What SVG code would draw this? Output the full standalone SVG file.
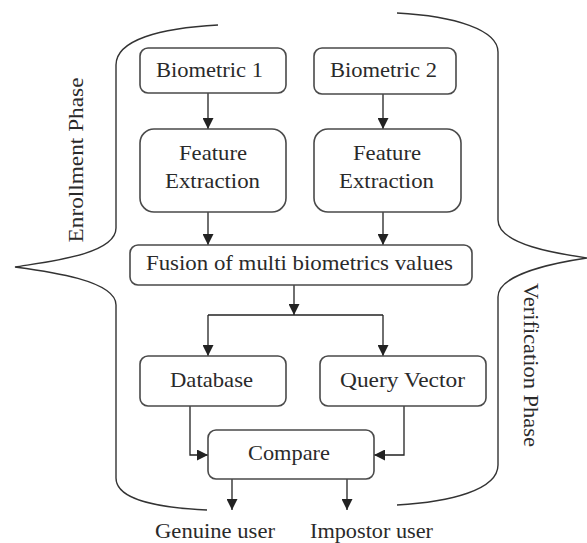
<svg xmlns="http://www.w3.org/2000/svg" width="587" height="543" viewBox="0 0 587 543">
<style>
.box{fill:#fff;stroke:#4a4a4a;stroke-width:1.6}
.t{font-family:"Liberation Serif","DejaVu Serif",serif;font-size:22px;fill:#2a2a2a;text-anchor:middle}
.c{fill:none;stroke:#222;stroke-width:1.3}
.brace{fill:none;stroke:#333;stroke-width:1.4}
</style>
<defs>
<marker id="ah" markerUnits="userSpaceOnUse" markerWidth="11" markerHeight="11" viewBox="0 0 10 10" refX="10" refY="5" orient="auto">
<path d="M0,0 L10,5 L0,10 z" fill="#222"/>
</marker>
</defs>
<g id="braces">
<path class="brace" d="M218,25 C160,28 116,40 116,65 L116,228 C116,255 45,262 15,267 C45,271 116,280 116,305 L116,478 C116,500 160,508 207,510"/>
<path class="brace" d="M397,13 C455,16 498,30 498,52 L498,220 C498,245 560,254 587,258 C560,262 498,273 498,297 L498,465 C498,490 450,502 397,505"/>
</g>
<g id="connectors">
<path class="c" d="M208,93 L208,129" marker-end="url(#ah)"/>
<path class="c" d="M383,94 L383,129" marker-end="url(#ah)"/>
<path class="c" d="M208,212 L208,245" marker-end="url(#ah)"/>
<path class="c" d="M383,212 L383,245" marker-end="url(#ah)"/>
<path class="c" d="M294,285 L294,315" marker-end="url(#ah)"/>
<path class="c" d="M208,315 L383,315"/>
<path class="c" d="M208,315 L208,356" marker-end="url(#ah)"/>
<path class="c" d="M383,315 L383,356" marker-end="url(#ah)"/>
<path class="c" d="M190,406 L190,455 L208,455" marker-end="url(#ah)"/>
<path class="c" d="M404,406 L404,455 L374,455" marker-end="url(#ah)"/>
<path class="c" d="M232,479 L232,510" marker-end="url(#ah)"/>
<path class="c" d="M347,479 L347,510" marker-end="url(#ah)"/>
</g>
<g id="bio1"><rect class="box" x="140" y="48" width="146" height="45" rx="8"/><text class="t" x="209.5" y="77" textLength="107" lengthAdjust="spacingAndGlyphs">Biometric 1</text></g>
<g id="bio2"><rect class="box" x="314" y="48" width="142" height="46" rx="8"/><text class="t" x="383.5" y="77" textLength="107" lengthAdjust="spacingAndGlyphs">Biometric 2</text></g>
<g id="fe1"><rect class="box" x="140" y="129" width="146" height="83" rx="14"/><text class="t" x="213" y="160" textLength="68" lengthAdjust="spacingAndGlyphs">Feature</text><text class="t" x="212.5" y="188" textLength="95" lengthAdjust="spacingAndGlyphs">Extraction</text></g>
<g id="fe2"><rect class="box" x="314" y="129" width="147" height="83" rx="14"/><text class="t" x="387" y="160" textLength="68" lengthAdjust="spacingAndGlyphs">Feature</text><text class="t" x="386.5" y="188" textLength="95" lengthAdjust="spacingAndGlyphs">Extraction</text></g>
<g id="fusion"><rect class="box" x="130" y="245" width="342" height="40" rx="8"/><text class="t" x="299.5" y="270" textLength="307" lengthAdjust="spacingAndGlyphs">Fusion of multi biometrics values</text></g>
<g id="database"><rect class="box" x="140" y="356" width="146" height="50" rx="8"/><text class="t" x="211.5" y="387" textLength="83" lengthAdjust="spacingAndGlyphs">Database</text></g>
<g id="query"><rect class="box" x="320" y="356" width="166" height="50" rx="8"/><text class="t" x="402.5" y="387" textLength="125" lengthAdjust="spacingAndGlyphs">Query Vector</text></g>
<g id="compare"><rect class="box" x="208" y="430" width="166" height="49" rx="8"/><text class="t" x="289" y="460" textLength="82" lengthAdjust="spacingAndGlyphs">Compare</text></g>
<g id="genuine"><text class="t" x="215" y="538" textLength="120" lengthAdjust="spacingAndGlyphs">Genuine user</text></g>
<g id="impostor"><text class="t" x="371.5" y="538" textLength="123" lengthAdjust="spacingAndGlyphs">Impostor user</text></g>
<g id="enrollment"><text class="t" transform="translate(83,160) rotate(-90)" x="0" y="0" textLength="165" lengthAdjust="spacingAndGlyphs">Enrollment Phase</text></g>
<g id="verification"><text class="t" transform="translate(524,365) rotate(90)" x="0" y="0" textLength="164" lengthAdjust="spacingAndGlyphs">Verification Phase</text></g>
</svg>
